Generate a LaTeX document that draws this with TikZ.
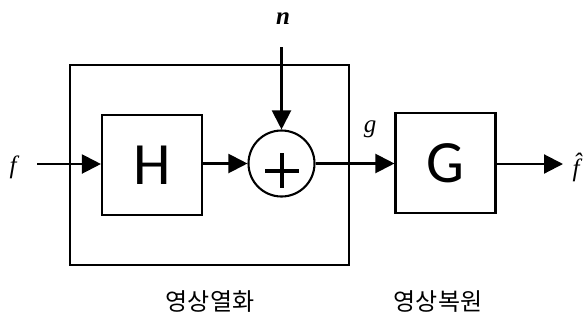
\documentclass[tikz,border=0pt]{standalone}
\usepackage{fontspec}
\setmainfont{Liberation Serif}
\newfontfamily\blockfont{Carlito}
\newfontfamily\kfont{Noto Sans CJK KR}
\usetikzlibrary{arrows.meta}
\begin{document}
\begin{tikzpicture}[x=1pt,y=-1pt,
  line width=2.1pt,
  arr/.style={-{Triangle[length=19pt,width=19pt]}},
  blk/.style={draw,minimum width=100pt,minimum height=100pt,inner sep=0pt,font=\blockfont\fontsize{60}{60}\selectfont},
  lbl/.style={font=\itshape\fontsize{25}{25}\selectfont,inner sep=0pt},
  klbl/.style={font=\kfont\fontsize{24}{24}\selectfont,inner sep=0pt}]
\useasboundingbox (0,0) rectangle (585,322);
\draw (70,65) rectangle (349,265);
\node[blk] (H) at (152,165) {H};
\node[draw,circle,minimum size=66pt,inner sep=0pt] (S) at (281.5,163.5) {};
\draw[line width=4pt] (265,170.5) -- (299,170.5) (282,153) -- (282,188);
\node[blk] (G) at (445.5,163) {G};
\node[lbl] (f) at (13,167) {f};
\node[lbl] (n) at (283,19) {\bfseries n};
\node[lbl] (g) at (370,129) {g};
\node[lbl,anchor=base] (fh) at (576,176) {\^{f}};
\coordinate (fs) at (37,164);
\coordinate (ns) at (281.5,47);
\coordinate (fe) at (563,164);
\draw[arr] (fs) -- (H.west |- fs);
\draw[arr] (H.east |- S.west) -- (S.west);
\draw[arr] (ns) -- (S.north);
\draw[arr] (S.east) -- (G.west |- S.east);
\draw[arr] (G.east |- fe) -- (fe);
\node[klbl] (k1) at (210,302) {영상열화};
\node[klbl] (k2) at (438,302) {영상복원};
\end{tikzpicture}
\end{document}
